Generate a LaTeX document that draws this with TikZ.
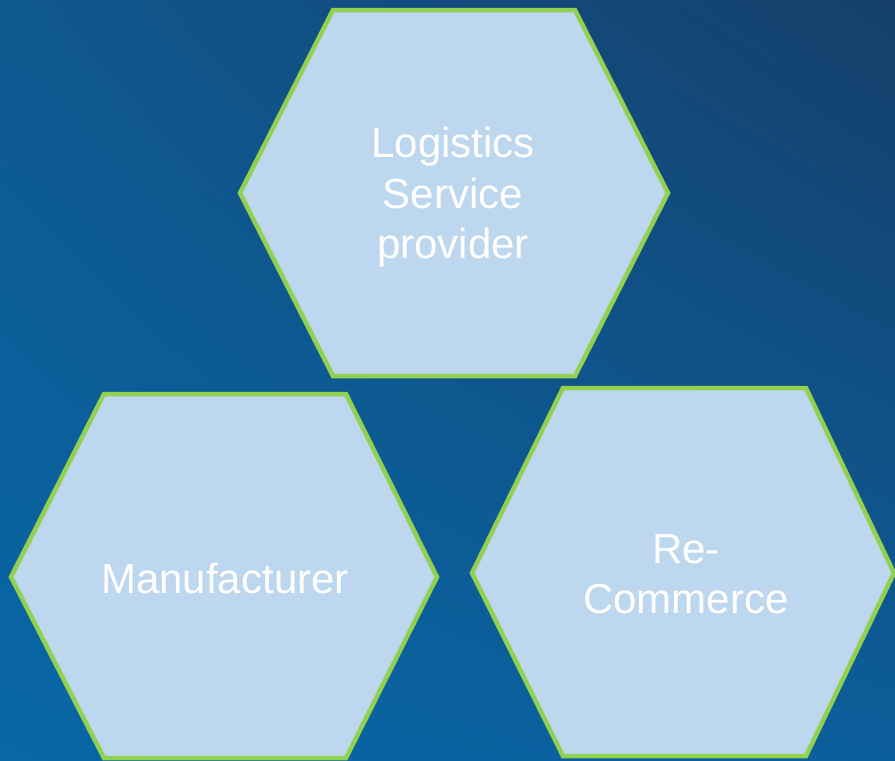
\documentclass[tikz,border=0pt]{standalone}
\usepackage{fontspec}
\setmainfont{Liberation Sans}
\usetikzlibrary{shadings}
\definecolor{hexfill}{HTML}{BDD7EE}
\definecolor{hexline}{HTML}{92D050}
\definecolor{bgul}{HTML}{0F5890}
\definecolor{bgur}{HTML}{153F6A}
\definecolor{bgll}{HTML}{0867A6}
\definecolor{bglr}{HTML}{0C5E9B}
\begin{document}
\begin{tikzpicture}[x=1pt,y=-1pt,
  hexagon/.style={fill=hexfill,draw=hexline,line width=4.5pt,line join=miter},
  lbl/.style={text=white,font=\fontsize{42}{50}\selectfont,anchor=base,inner sep=0pt}]
\shade[upper left=bgul,upper right=bgur,lower left=bgll,lower right=bglr] (0,0) rectangle (895,761);
\useasboundingbox (0,0) rectangle (895,761);
% hexagons
\draw[hexagon] (240,193) -- (333,10) -- (575,10) -- (668,193) -- (575,376) -- (333,376) -- cycle;
\draw[hexagon] (11,577) -- (104,394) -- (346,394) -- (437,577) -- (346,758) -- (104,758) -- cycle;
\draw[hexagon] (472,573) -- (563,388) -- (806,388) -- (894,573) -- (806,756) -- (563,756) -- cycle;
% labels
\node[lbl] (lsp1) at (453,157) {Logistics};
\node[lbl] (lsp2) at (453,208) {Service};
\node[lbl] (lsp3) at (453,258) {provider};
\node[lbl] (man) at (225,593) {Manufacturer};
\node[lbl] (rc1) at (686,563) {Re-};
\node[lbl] (rc2) at (686,613) {Commerce};
\end{tikzpicture}
\end{document}
